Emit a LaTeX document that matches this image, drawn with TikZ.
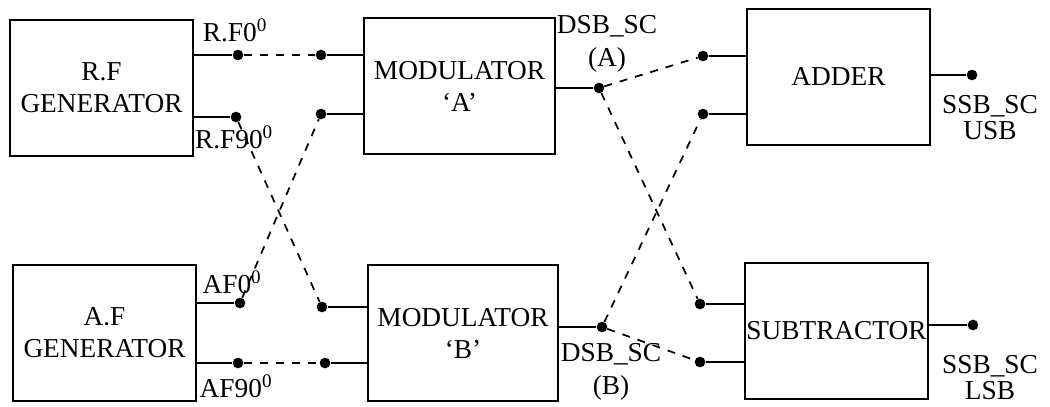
\documentclass[tikz,border=0pt]{standalone}
\usepackage{fontspec}
\setmainfont{Liberation Serif}
\usetikzlibrary{positioning}

\tikzset{
    blockBox/.style={rectangle, draw=black, line width=1.4pt, minimum height=102pt, text centered, align=center, inner sep=1pt, font=\fontsize{20.5}{24}\selectfont},
    jointDot/.style={circle, fill=black, inner sep=0pt, minimum size=8pt},
    wire/.style={line width=1.4pt},
    dashWire/.style={line width=1.3pt, dash pattern=on 6pt off 6pt},
    sigLabel/.style={align=center, inner sep=0pt, font=\fontsize{20.5}{25}\selectfont},
    outLabel/.style={align=center, inner sep=0pt, font=\fontsize{20.5}{19.5}\selectfont}
}

\begin{document}
\begin{tikzpicture}[x=0.75pt, y=-0.75pt]
    \useasboundingbox (0,0) rectangle (1050,407);

    % blocks
    \node [blockBox, minimum width=137pt] (rfGenerator) at (101.5,88) {R.F\\GENERATOR};
    \node [blockBox, minimum width=137pt] (afGenerator) at (104.5,333) {A.F\\GENERATOR};
    \node [blockBox, minimum width=143pt] (modulatorA) at (459.5,86) {MODULATOR\\`A'};
    \node [blockBox, minimum width=142.5pt] (modulatorB) at (463,333) {MODULATOR\\`B'};
    \node [blockBox, minimum width=137pt] (adder) at (838.5,77) {ADDER};
    \node [blockBox, minimum width=137pt] (subtractor) at (836.5,331) {SUBTRACTOR};

    % switch points
    \node [jointDot] (rfZeroOut) at (238,55) {};
    \node [jointDot] (rfNinetyOut) at (236,117) {};
    \node [jointDot] (afZeroOut) at (240,303) {};
    \node [jointDot] (afNinetyOut) at (238,363) {};
    \node [jointDot] (modAInOne) at (321,55) {};
    \node [jointDot] (modAInTwo) at (321,114) {};
    \node [jointDot] (modBInOne) at (322,307) {};
    \node [jointDot] (modBInTwo) at (325,363) {};
    \node [jointDot] (modAOut) at (599,88) {};
    \node [jointDot] (modBOut) at (602,327) {};
    \node [jointDot] (adderInOne) at (703,56) {};
    \node [jointDot] (adderInTwo) at (703,114) {};
    \node [jointDot] (subInOne) at (700,304) {};
    \node [jointDot] (subInTwo) at (700,362) {};
    \node [jointDot] (adderOut) at (972,75) {};
    \node [jointDot] (subOut) at (973,325) {};

    % solid leads
    \draw [wire] (rfGenerator.east |- rfZeroOut) -- (rfZeroOut);
    \draw [wire] (rfGenerator.east |- rfNinetyOut) -- (rfNinetyOut);
    \draw [wire] (afGenerator.east |- afZeroOut) -- (afZeroOut);
    \draw [wire] (afGenerator.east |- afNinetyOut) -- (afNinetyOut);
    \draw [wire] (modAInOne) -- (modulatorA.west |- modAInOne);
    \draw [wire] (modAInTwo) -- (modulatorA.west |- modAInTwo);
    \draw [wire] (modBInOne) -- (modulatorB.west |- modBInOne);
    \draw [wire] (modBInTwo) -- (modulatorB.west |- modBInTwo);
    \draw [wire] (modulatorA.east |- modAOut) -- (modAOut);
    \draw [wire] (modulatorB.east |- modBOut) -- (modBOut);
    \draw [wire] (adderInOne) -- (adder.west |- adderInOne);
    \draw [wire] (adderInTwo) -- (adder.west |- adderInTwo);
    \draw [wire] (subInOne) -- (subtractor.west |- subInOne);
    \draw [wire] (subInTwo) -- (subtractor.west |- subInTwo);
    \draw [wire] (adder.east |- adderOut) -- (adderOut);
    \draw [wire] (subtractor.east |- subOut) -- (subOut);

    % dashed links
    \draw [dashWire] (rfZeroOut) -- (modAInOne);
    \draw [dashWire] (rfNinetyOut) -- (modBInOne);
    \draw [dashWire] (afZeroOut) -- (modAInTwo);
    \draw [dashWire] (afNinetyOut) -- (modBInTwo);
    \draw [dashWire] (modAOut) -- (adderInOne);
    \draw [dashWire] (modAOut) -- (subInOne);
    \draw [dashWire] (modBOut) -- (adderInTwo);
    \draw [dashWire] (modBOut) -- (subInTwo);

    % labels
    \node [sigLabel] (rfZeroLabel) at (235,30) {R.F0\textsuperscript{0}};
    \node [sigLabel] (rfNinetyLabel) at (234,137) {R.F90\textsuperscript{0}};
    \node [sigLabel] (afZeroLabel) at (232,282) {AF0\textsuperscript{0}};
    \node [sigLabel] (afNinetyLabel) at (236,386) {AF90\textsuperscript{0}};
    \node [sigLabel] (dsbALabel) at (607,44) {DSB\_SC\\(A)};
    \node [sigLabel] (dsbBLabel) at (611,372) {DSB\_SC\\(B)};
    \node [outLabel] (usbLabel) at (990,118) {SSB\_SC\\USB};
    \node [outLabel] (lsbLabel) at (990,378) {SSB\_SC\\LSB};
\end{tikzpicture}
\end{document}
